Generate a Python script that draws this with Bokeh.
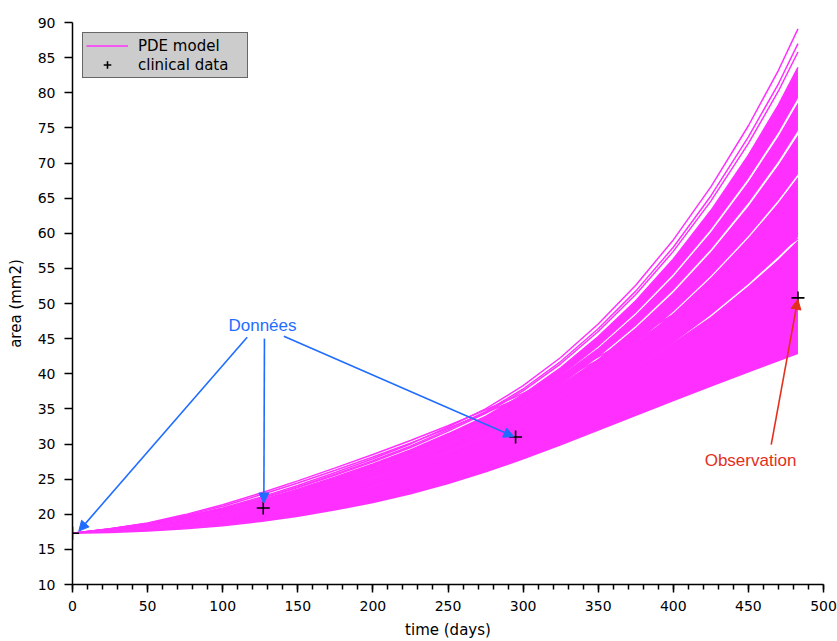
from bokeh.plotting import figure
from bokeh.models import (Range1d, SingleIntervalTicker, Legend, LegendItem,
                          Arrow, NormalHead, Label)
from bokeh.embed import file_html
from bokeh.resources import INLINE

# ---------------- data ----------------
t_days = [0, 25, 50, 75, 100, 125, 150, 175, 200, 225, 250, 275, 300,
          325, 350, 375, 400, 425, 450, 470, 483]

# individual model runs drawn as lines
run_top1 = [17.3, 17.9, 18.7, 19.68, 20.9, 22.4, 24.1, 25.95, 27.9, 30.01, 32.4, 35.0, 38.3,
            42.31, 47.09, 52.6, 59.05, 66.6, 75.3, 83.2, 89.1]
run_top2 = [17.3, 17.88, 18.65, 19.60, 20.79, 22.24, 23.90, 25.71, 27.62, 29.69, 32.04, 34.59, 37.83,
            41.74, 46.40, 51.76, 58.01, 65.31, 73.71, 81.28, 87.0]
run_top3 = [17.3, 17.86, 18.62, 19.56, 20.72, 22.16, 23.79, 25.57, 27.46, 29.51, 31.83, 34.36, 37.56,
            41.42, 46.01, 51.28, 57.42, 64.58, 72.80, 80.25, 85.8]
run_early1 = [17.3, 17.95, 18.75, 19.95, 21.35, 23.0, 24.75, 26.6, 28.5, 30.5, 32.6, 34.85, 37.2,
              39.7, 42.4, 45.3, 48.4, 51.7, 55.2, 58.1, 60.0]
run_early2 = [17.3, 17.93, 18.7, 19.83, 21.15, 22.75, 24.45, 26.27, 28.15, 30.13, 32.22, 34.45, 36.78,
              39.25, 41.9, 44.75, 47.8, 51.05, 54.5, 57.35, 59.2]
run_bottom = [17.3, 17.4, 17.6, 17.93, 18.38, 18.98, 19.73, 20.63, 21.68, 22.93, 24.38, 26.03, 27.88,
              29.88, 31.98, 34.1, 36.2, 38.25, 40.28, 41.88, 42.9]

# bundles of model runs (upper / lower edge of each bundle)
bundle_c_hi = [17.3, 17.84, 18.57, 19.47, 20.60, 21.99, 23.58, 25.32, 27.16, 29.17, 31.45, 33.93, 37.06,
               40.83, 45.29, 50.40, 56.33, 63.23, 71.13, 78.28, 83.6]
bundle_c_lo = [17.3, 17.79, 18.46, 19.31, 20.36, 21.67, 23.16, 24.81, 26.57, 28.49, 30.68, 33.08, 36.07,
               39.65, 43.85, 48.64, 54.15, 60.53, 67.80, 74.35, 79.2]
bundle_b_hi = [17.3, 17.89, 18.56, 19.41, 20.46, 21.77, 23.26, 24.91, 26.67, 28.59, 30.78, 33.18, 36.17,
               39.75, 43.66, 48.40, 53.86, 60.16, 67.34, 73.81, 78.6]
bundle_b_lo = [17.3, 17.74, 18.36, 19.13, 20.11, 21.33, 22.73, 24.28, 25.95, 27.79, 29.88, 32.18, 35.03,
               38.41, 42.35, 46.79, 51.88, 57.70, 64.31, 70.23, 74.6]
bundle_a3_hi = [17.3, 17.84, 18.46, 19.23, 20.21, 21.43, 22.83, 24.38, 26.05, 27.89, 29.98, 32.28, 35.13,
                38.51, 42.15, 46.55, 51.58, 57.34, 63.86, 69.70, 74.0]
bundle_a3_lo = [17.3, 17.68, 18.21, 18.90, 19.77, 20.87, 22.14, 23.57, 25.11, 26.84, 28.81, 30.98, 33.63,
                36.74, 40.32, 44.31, 48.81, 53.90, 59.61, 64.69, 68.4]
bundle_a2_hi = [17.3, 17.78, 18.31, 19.00, 19.87, 20.97, 22.24, 23.67, 25.21, 26.94, 28.91, 31.08, 33.73,
                36.84, 40.42, 44.41, 48.61, 53.65, 59.31, 64.33, 68.0]
bundle_a2_lo = [17.3, 17.58, 17.99, 18.56, 19.28, 20.20, 21.29, 22.53, 23.90, 25.46, 27.24, 29.23, 31.60,
                34.32, 37.38, 40.71, 44.36, 48.37, 52.79, 56.64, 59.4]
bundle_a1_hi = [17.3, 17.68, 18.09, 18.66, 19.38, 20.30, 21.39, 22.63, 24.00, 25.56, 27.34, 29.33, 31.70,
                34.42, 37.48, 40.81, 44.46, 48.13, 52.48, 56.28, 59.0]

# clinical data
clinical_t = [0, 127, 295, 483]
clinical_area = [17.3, 20.9, 31.0, 50.8]

# annotations
donnees_xy = (126.5, 46.8)
donnees_starts = [(116.3, 45.2), (127.8, 45.0), (140.7, 45.35)]
donnees_ends = [(4.2, 17.6), (127.4, 21.6), (293.8, 31.05)]
observation_xy = (451.4, 27.7)
observation_start = (465.2, 29.9)
observation_end = (482.9, 50.6)

MAGENTA = "#ff30ff"
BLUE = "#1f6dff"
RED = "#e3301c"
AXIS_FONT = "DejaVu Sans"

# ---------------- figure ----------------
p = figure(width=837, height=641, x_range=Range1d(0, 500), y_range=Range1d(10, 90),
           output_backend="svg", toolbar_location=None,
           min_border_left=72, min_border_right=14, min_border_top=22, min_border_bottom=54,
           x_axis_label="time (days)", y_axis_label="area (mm2)")
p.outline_line_color = None
p.grid.visible = False
p.background_fill_color = "white"
p.border_fill_color = "white"

p.xaxis.ticker = SingleIntervalTicker(interval=50, num_minor_ticks=5)
p.yaxis.ticker = SingleIntervalTicker(interval=5, num_minor_ticks=0)
for ax in (p.xaxis, p.yaxis):
    ax.axis_line_color = "black"
    ax.axis_line_width = 1.5
    ax.major_tick_line_color = "black"
    ax.major_tick_line_width = 1.5
    ax.minor_tick_line_color = "black"
    ax.minor_tick_line_width = 1.5
    ax.major_tick_in = 0
    ax.major_tick_out = 8
    ax.minor_tick_in = 0
    ax.minor_tick_out = 5
    ax.major_label_text_font = AXIS_FONT
    ax.major_label_text_font_size = "14px"
    ax.major_label_text_color = "black"
    ax.axis_label_text_font = AXIS_FONT
    ax.axis_label_text_font_size = "15px"
    ax.axis_label_text_font_style = "normal"
    ax.axis_label_text_color = "black"
p.yaxis.minor_tick_line_color = None
p.xaxis.major_label_standoff = 8
p.xaxis.axis_label_standoff = 7
p.yaxis.major_label_standoff = 9
p.yaxis.axis_label_standoff = 10

# bundles (filled between their edge runs)
bundles = [(run_bottom, bundle_a1_hi), (bundle_a2_lo, bundle_a2_hi),
           (bundle_a3_lo, bundle_a3_hi), (bundle_b_lo, bundle_b_hi),
           (bundle_c_lo, bundle_c_hi)]
for lo, hi in bundles:
    p.varea(x=t_days, y1=lo, y2=hi, fill_color=MAGENTA, fill_alpha=1.0)

p.line(t_days, run_bottom, line_color=MAGENTA, line_width=1.5)
p.line(t_days, bundle_c_hi, line_color=MAGENTA, line_width=1.5)
for run in (run_early1, run_early2, run_top3, run_top2):
    p.line(t_days, run, line_color=MAGENTA, line_width=1.5)
model_r = p.line(t_days, run_top1, line_color=MAGENTA, line_width=1.5)

data_r = p.scatter(clinical_t, clinical_area, marker="cross", size=13,
                   line_color="black", line_width=1.6)

# annotations
p.add_layout(Label(x=donnees_xy[0], y=donnees_xy[1], text="Données",
                   text_font="Liberation Sans", text_font_size="17px",
                   text_color=BLUE, text_align="center", text_baseline="middle"))
for (xs, ys), (xe, ye) in zip(donnees_starts, donnees_ends):
    p.add_layout(Arrow(x_start=xs, y_start=ys, x_end=xe, y_end=ye,
                       line_color=BLUE, line_width=1.6,
                       end=NormalHead(size=10, fill_color=BLUE, line_color=BLUE, line_width=1)))
p.add_layout(Label(x=observation_xy[0], y=observation_xy[1], text="Observation",
                   text_font="Liberation Sans", text_font_size="17px",
                   text_color=RED, text_align="center", text_baseline="middle"))
p.add_layout(Arrow(x_start=observation_start[0], y_start=observation_start[1],
                   x_end=observation_end[0], y_end=observation_end[1],
                   line_color=RED, line_width=1.6,
                   end=NormalHead(size=10, fill_color=RED, line_color=RED, line_width=1)))

legend = Legend(items=[LegendItem(label="PDE model", renderers=[model_r]),
                       LegendItem(label="clinical data", renderers=[data_r])],
                location="top_left")
legend.margin = 10
legend.padding = 3
legend.spacing = 0
legend.glyph_width = 42
legend.glyph_height = 19
legend.label_height = 19
legend.label_width = 106
legend.label_standoff = 10
legend.label_text_font = AXIS_FONT
legend.label_text_font_size = "15px"
legend.label_text_color = "black"
legend.background_fill_color = "#cccccc"
legend.background_fill_alpha = 1.0
legend.border_line_color = "black"
legend.border_line_width = 1.5
p.add_layout(legend)

open("out.html", "w").write(file_html(p, INLINE))
